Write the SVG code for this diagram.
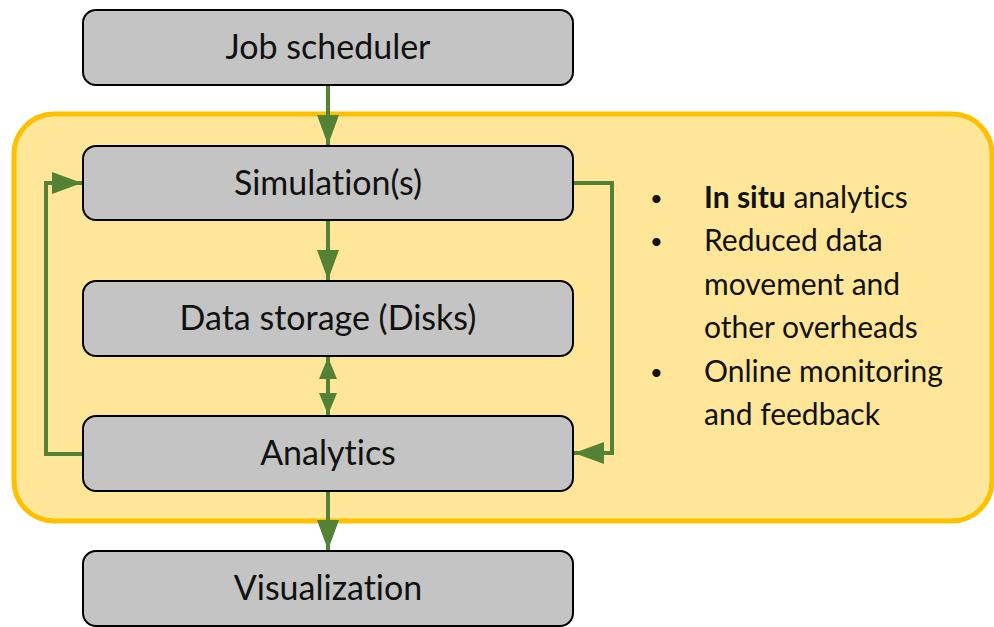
<svg xmlns="http://www.w3.org/2000/svg" width="994" height="627" viewBox="0 0 994 627">
  <defs>
    <style>
      .box { fill: #C4C4C4; stroke: #000000; stroke-width: 2; }
      .label { font-family: Lato, "Open Sans", "Liberation Sans", sans-serif; font-size: 34px; fill: #111111; text-anchor: middle; font-variant-ligatures: none; }
      .note { font-family: Lato, "Open Sans", "Liberation Sans", sans-serif; font-size: 30px; fill: #111111; font-variant-ligatures: none; }
      .dot { font-size: 22px; }
      .link { fill: none; stroke: #548235; stroke-width: 4; }
    </style>
    <marker id="arrow" viewBox="0 0 30 22" refX="30" refY="11" markerWidth="30" markerHeight="22" markerUnits="userSpaceOnUse" orient="auto-start-reverse">
      <path d="M0,0 L30,11 L0,22 Z" fill="#548235"/>
    </marker>
    <marker id="arrow-sm" viewBox="0 0 22 18" refX="22" refY="9" markerWidth="22" markerHeight="18" markerUnits="userSpaceOnUse" orient="auto-start-reverse">
      <path d="M0,0 L22,9 L0,18 Z" fill="#548235"/>
    </marker>
  </defs>

  <!-- in situ region -->
  <g id="insitu-region">
    <rect x="14" y="114" width="978" height="407" rx="40" ry="40" fill="#FFE699" stroke="#FFC000" stroke-width="5"/>
  </g>

  <!-- connectors -->
  <g id="connectors">
    <line class="link" x1="328" y1="85" x2="328" y2="145" marker-end="url(#arrow)"/>
    <line class="link" x1="328" y1="220" x2="328" y2="280" marker-end="url(#arrow)"/>
    <line class="link" x1="328" y1="357" x2="328" y2="415" marker-start="url(#arrow-sm)" marker-end="url(#arrow-sm)"/>
    <line class="link" x1="328" y1="491" x2="328" y2="550" marker-end="url(#arrow)"/>
    <polyline class="link" points="83,454 46,454 46,183 82,183" marker-end="url(#arrow)"/>
    <polyline class="link" points="573,183 612,183 612,453 574,453" marker-end="url(#arrow)"/>
  </g>

  <!-- nodes -->
  <g id="job-scheduler">
    <rect class="box" x="83" y="10" width="490" height="75" rx="13" ry="13"/>
    <text class="label" x="328" y="59">Job scheduler</text>
  </g>
  <g id="simulations">
    <rect class="box" x="83" y="146" width="490" height="74" rx="13" ry="13"/>
    <text class="label" x="328" y="195">Simulation(s)</text>
  </g>
  <g id="data-storage">
    <rect class="box" x="83" y="281" width="490" height="75" rx="13" ry="13"/>
    <text class="label" x="328" y="330">Data storage (Disks)</text>
  </g>
  <g id="analytics">
    <rect class="box" x="83" y="416" width="490" height="75" rx="13" ry="13"/>
    <text class="label" x="328" y="465">Analytics</text>
  </g>
  <g id="visualization">
    <rect class="box" x="83" y="551" width="490" height="75" rx="13" ry="13"/>
    <text class="label" x="328" y="600">Visualization</text>
  </g>

  <!-- bullet notes -->
  <g id="notes" class="note">
    <text class="dot" x="650" y="206">•</text>
    <text x="704" y="208"><tspan font-weight="bold">In situ</tspan> analytics</text>
    <text class="dot" x="650" y="249">•</text>
    <text x="704" y="251">Reduced data</text>
    <text x="704" y="295">movement and</text>
    <text x="704" y="338">other overheads</text>
    <text class="dot" x="650" y="380">•</text>
    <text x="704" y="382">Online monitoring</text>
    <text x="704" y="425">and feedback</text>
  </g>
</svg>
